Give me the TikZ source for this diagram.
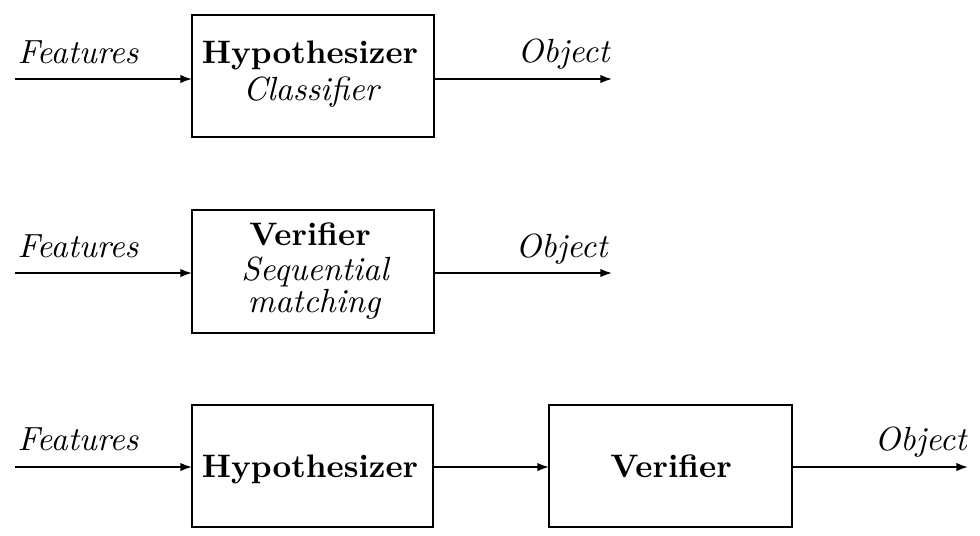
\documentclass[tikz,border=0pt]{standalone}
\usetikzlibrary{arrows.meta}
\newcommand\pxu{0.3075pt}
\begin{document}
\begin{tikzpicture}[x=0.3075pt,y=-0.3075pt,
  blockbox/.style={draw, line width=0.9pt, inner sep=0pt, outer sep=0pt},
  lbl/.style={inner sep=0pt, font=\fontsize{10.3}{12}\selectfont\itshape},
  intext/.style={inner sep=0pt, anchor=base},
  flow/.style={line width=0.5pt, -{Latex[length=3.6pt,width=2.6pt]}}]
\useasboundingbox (0,0) rectangle (980,535);

% Row 1
\node[blockbox, minimum width=242*\pxu, minimum height=122*\pxu] (b1) at (313,76) {};
\node[intext, font=\bfseries] (t1a) at (310,63) {Hypothesizer};
\node[intext, font=\fontsize{10.3}{12}\selectfont\itshape] (t1b) at (311,100) {Classifier};
\node[lbl, anchor=base west] (f1) at (17,63) {Features};
\node[lbl, anchor=base east] (o1) at (610,62) {Object};
\coordinate (i1) at (15,79);
\coordinate (e1) at (612,79);
\draw[flow] (i1) -- (i1 -| b1.west);
\draw[flow] (e1 -| b1.east) -- (e1);

% Row 2
\node[blockbox, minimum width=242*\pxu, minimum height=123*\pxu] (b2) at (313,271.5) {};
\node[intext, font=\bfseries] (t2a) at (310,245) {Verifier};
\node[intext, font=\fontsize{10.3}{12}\selectfont\itshape] (t2b) at (315,280) {Sequential};
\node[intext, font=\fontsize{10.3}{12}\selectfont\itshape] (t2c) at (314,312) {matching};
\node[lbl, anchor=base west] (f2) at (17,257) {Features};
\node[lbl, anchor=base east] (o2) at (608,257) {Object};
\coordinate (i2) at (15,273);
\coordinate (e2) at (612,273);
\draw[flow] (i2) -- (i2 -| b2.west);
\draw[flow] (e2 -| b2.east) -- (e2);

% Row 3
\node[blockbox, minimum width=241*\pxu, minimum height=122*\pxu] (b3) at (312.5,466) {};
\node[blockbox, minimum width=243*\pxu, minimum height=122*\pxu] (b4) at (670.5,466) {};
\node[intext, font=\bfseries] (t3a) at (310,477) {Hypothesizer};
\node[intext, font=\bfseries] (t4a) at (671,477) {Verifier};
\node[lbl, anchor=base west] (f3) at (17,450) {Features};
\node[lbl, anchor=base east] (o3) at (967,450) {Object};
\coordinate (i3) at (15,467);
\coordinate (e3) at (968,467);
\draw[flow] (i3) -- (i3 -| b3.west);
\draw[flow] (i3 -| b3.east) -- (i3 -| b4.west);
\draw[flow] (e3 -| b4.east) -- (e3);
\end{tikzpicture}
\end{document}
